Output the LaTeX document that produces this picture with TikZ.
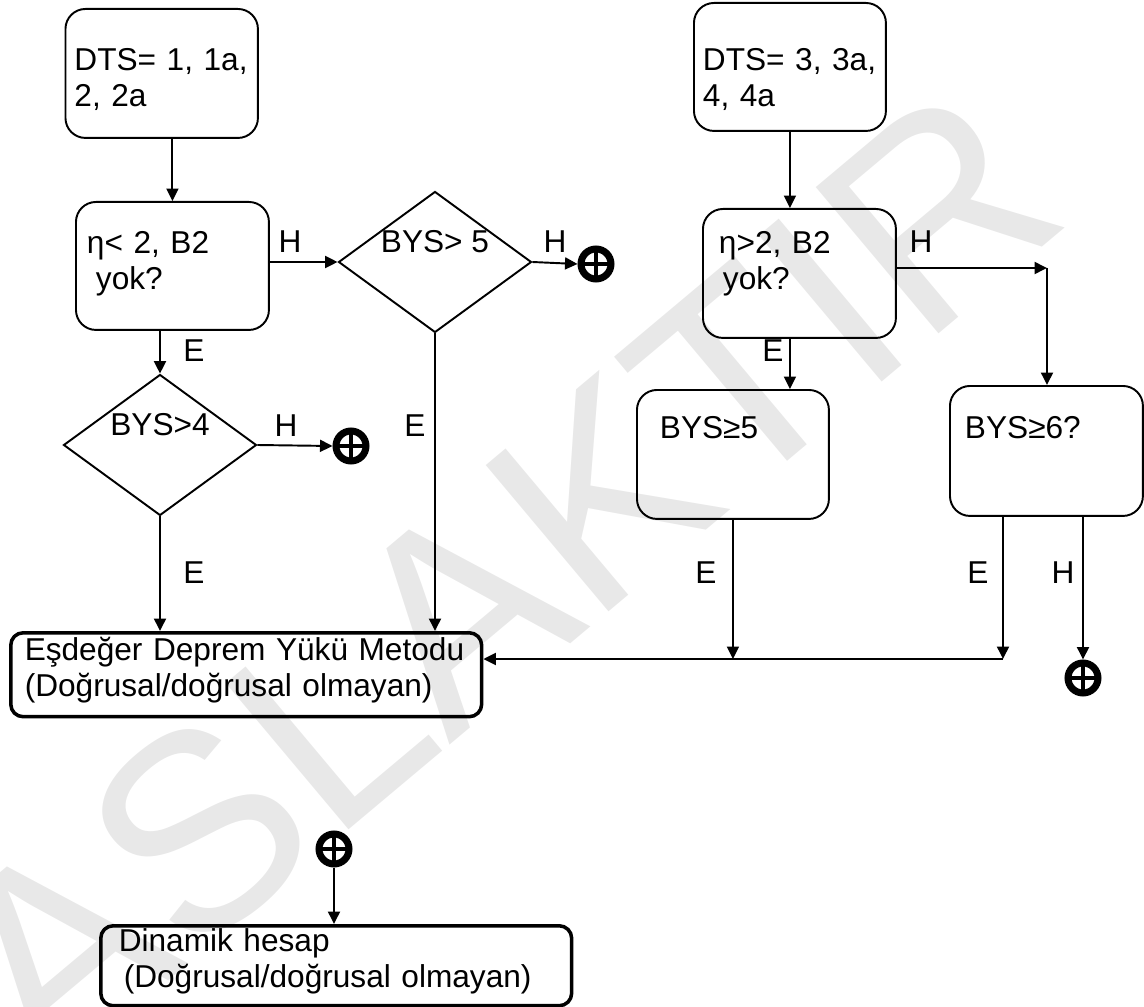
\documentclass[tikz,border=0pt]{standalone}
\usepackage{fontspec}
\setmainfont{Liberation Sans}
\usetikzlibrary{arrows.meta,shapes.geometric}

\begin{document}
\begin{tikzpicture}[
  x=0.02cm, y=-0.02cm, every node/.style={font=\fontsize{18}{20.5}\selectfont},
  kutu/.style={draw, line width=1.1pt, rounded corners=0.4cm, align=left, anchor=north west, inner ysep=0pt},
  kalin/.style={kutu, line width=2pt, rounded corners=0.25cm},
  karar/.style={diamond, draw, line width=1.1pt, aspect=1.37, inner sep=0pt,
    minimum width=3.86cm, minimum height=2.82cm, text height=0.36cm, text depth=0.76cm},
  arti/.style={circle, draw, line width=0.14cm, minimum size=0.6cm, inner sep=0pt,
    path picture={\draw[line width=0.09cm] (path picture bounding box.north) -- (path picture bounding box.south)
      (path picture bounding box.west) -- (path picture bounding box.east);}},
  ok/.style={-{Triangle[length=0.25cm, width=0.24cm]}, line width=1.1pt},
  etk/.style={inner sep=0pt},
]
\useasboundingbox (0,0) rectangle (1144,1007);
% ---------------- filigran ----------------
\node[rotate=40, text=black!9, inner sep=0pt, font=\fontsize{158}{164}\selectfont] (filigran) at (500,578) {ASLAKTIR};
% ---------------- sol kol ----------------
\node[kutu, text width=3.49cm, inner xsep=0.18cm, text height=1.24cm, text depth=1.34cm] (dts1) at (64.5,8) {DTS= 1, 1a,\\2, 2a};
\node[kutu, text width=3.42cm, inner xsep=0.22cm, text height=1.04cm, text depth=1.52cm] (eta1) at (75,201) {η< 2, B2\\\hspace*{0.18cm}yok?};
\node[karar] (k1) at (435,262) {BYS> 5};
\node[arti] (p1) at (596,264) {};
\node[karar] (k2) at (160,445) {BYS>4};
\node[arti] (p2) at (351,446) {};
\node[kalin, text width=8.86cm, inner xsep=0.28cm, text height=0.56cm, text depth=1.12cm] (esd) at (9,631) {Eşdeğer Deprem Yükü Metodu\\(Doğrusal/doğrusal olmayan)};
% ---------------- sag kol ----------------
\node[kutu, text width=3.48cm, inner xsep=0.18cm, text height=1.36cm, text depth=1.2cm] (dts2) at (693,2) {DTS= 3, 3a,\\4, 4a};
\node[kutu, text width=3.22cm, inner xsep=0.32cm, text height=0.9cm, text depth=1.68cm] (eta2) at (702,208) {η>2, B2\\\hspace*{0.08cm}yok?};
\node[kutu, text width=2.92cm, inner xsep=0.46cm, text height=0.98cm, text depth=1.6cm] (b5) at (636,389) {BYS≥5};
\node[kutu, text width=3.26cm, inner xsep=0.3cm, text height=1.06cm, text depth=1.54cm] (b6) at (949,385) {BYS≥6?};
\node[arti] (p3) at (1083,678) {};
\coordinate (kose) at (1047,268);
\coordinate (bus) at (1003,659);
% ---------------- dinamik ----------------
\node[arti] (p4) at (334,849) {};
\node[kalin, text width=8.7cm, inner xsep=0.36cm, text height=0.52cm, text depth=1.08cm] (din) at (99,924) {Dinamik hesap\\\hspace*{0.1cm}(Doğrusal/doğrusal olmayan)};
% ---------------- baglantilar ----------------
\draw[ok] (eta1.north |- dts1.south) -- (eta1.north);
\draw[ok] (eta1.east |- k1.west) -- (k1.west);
\draw[ok] (k1.east) -- (p1.west);
\draw[ok] (k2.north |- eta1.south) -- (k2.north);
\draw[ok] (k2.east) -- (p2.west);
\draw[ok] (k2.south) -- (k2.south |- esd.north);
\draw[ok] (k1.south) -- (k1.south |- esd.north);
\draw[ok] (dts2.south) -- (dts2.south |- eta2.north);
\draw[ok] (eta2.east |- kose) -- (kose);
\draw[ok] (kose) -- (kose |- b6.north);
\draw[ok] (dts2.south |- eta2.south) -- (dts2.south |- b5.north);
\draw[ok] (b5.south) -- (b5.south |- bus);
\draw[ok] (bus |- b6.south) -- (bus);
\draw[ok] (p3.north |- b6.south) -- (p3.north);
\draw[ok] (bus) -- (esd.east |- bus);
\draw[ok] (p4.south) -- (p4.south |- din.north);
% ---------------- etiketler ----------------
\node[etk] (hA) at (290,242) {H};
\node[etk] (hB) at (555,242) {H};
\node[etk] (eA) at (194,351) {E};
\node[etk] (hC) at (286,426) {H};
\node[etk] (eB) at (415,426) {E};
\node[etk] (eC) at (194,573) {E};
\node[etk] (hD) at (921,242) {H};
\node[etk] (eD) at (773,351) {E};
\node[etk] (eE) at (706,573) {E};
\node[etk] (eF) at (978,573) {E};
\node[etk] (hE) at (1063,573) {H};
\end{tikzpicture}
\end{document}
